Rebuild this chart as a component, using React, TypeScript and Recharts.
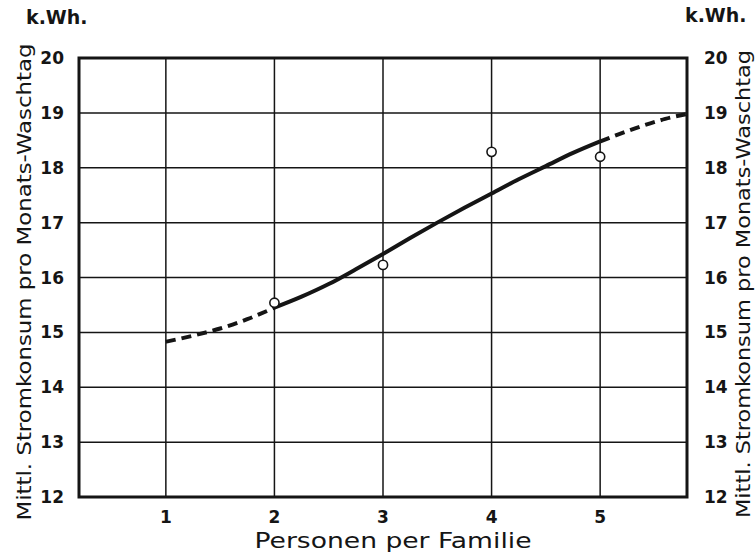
import { CartesianGrid, ComposedChart, Line, ReferenceArea, Scatter, XAxis, YAxis } from 'recharts'

// persons per family (x) and mean kWh per washing day (y)
const curveX = [1, 1.25, 1.5, 1.75, 2, 2.25, 2.5, 2.75, 3, 3.25, 3.5, 3.75, 4, 4.25, 4.5, 4.75, 5, 5.2, 5.4, 5.6, 5.8]
const curveY = [14.83, 14.94, 15.07, 15.24, 15.45, 15.65, 15.88, 16.15, 16.43, 16.72, 17.0, 17.27, 17.53, 17.79, 18.03, 18.27, 18.48, 18.63, 18.77, 18.89, 18.98]
const measuredX = [2, 3, 4, 5]
const measuredY = [15.54, 16.23, 18.29, 18.2]
const xTicks = [1, 2, 3, 4, 5]
const yTicks = [12, 13, 14, 15, 16, 17, 18, 19, 20]
const xDomain: [number, number] = [0.2, 5.8]
const yDomain: [number, number] = [12, 20]
const solidFrom = 2
const solidTo = 5

const curve = curveX.map((x, i) => ({ x, y: curveY[i] }))
const dashedLow = curve.filter(p => p.x <= solidFrom)
const solid = curve.filter(p => p.x >= solidFrom && p.x <= solidTo)
const dashedHigh = curve.filter(p => p.x >= solidTo)
const measured = measuredX.map((x, i) => ({ x, y: measuredY[i] }))

const font = '"DejaVu Sans", sans-serif'
const ink = '#151515'
const yTitle = 'Mittl. Stromkonsum pro Monats-Waschtag'

function Ring(props: any) {
  return <circle cx={props.cx} cy={props.cy} r={4.6} fill="#fff" stroke={ink} strokeWidth={1.6} />
}

// tick text with an explicit size, anchored the way the axis asks
function Tick(props: any) {
  const { x, y, payload, textAnchor, verticalAnchor } = props
  const dy = verticalAnchor === 'start' ? '0.8em' : '0.36em'
  return (
    <text x={x} y={y} dy={dy} textAnchor={textAnchor} fontSize={17} fontWeight="bold" fontFamily={font} fill={ink}>
      {payload.value}
    </text>
  )
}

function App() {
  return (
    <div style={{ position: 'absolute', left: 0, top: 0, width: 756, height: 560, background: '#fff' }}>
      <ComposedChart width={756} height={560} margin={{ top: 58, right: 0, bottom: 0, left: 0 }}>
        <CartesianGrid stroke={ink} strokeWidth={1.5} />
        <XAxis
          type="number"
          dataKey="x"
          domain={xDomain}
          ticks={xTicks}
          allowDataOverflow
          axisLine={false}
          tickLine={false}
          tickMargin={6}
          height={63}
          tick={<Tick />}
          label={() => (
            <text x={393} y={548} textAnchor="middle" fontSize={21} fontFamily={font} fill={ink}
              textLength={277} lengthAdjust="spacingAndGlyphs">
              Personen per Familie
            </text>
          )}
        />
        <YAxis
          domain={yDomain}
          ticks={yTicks}
          allowDataOverflow
          width={79}
          axisLine={false}
          tickLine={false}
          tickMargin={9}
          tick={<Tick />}
          label={() => (
            <text x={24} y={282} dy="0.35em" textAnchor="middle" fontSize={20} fontFamily={font} fill={ink}
              transform="rotate(-90 24 282)" textLength={477} lengthAdjust="spacingAndGlyphs">
              {yTitle}
            </text>
          )}
        />
        <YAxis
          yAxisId="right"
          orientation="right"
          domain={yDomain}
          ticks={yTicks}
          allowDataOverflow
          width={69}
          axisLine={false}
          tickLine={false}
          tickMargin={11}
          tick={<Tick />}
          label={() => (
            <text x={743} y={284} dy="0.35em" textAnchor="middle" fontSize={20} fontFamily={font} fill={ink}
              transform="rotate(-90 743 284)" textLength={468} lengthAdjust="spacingAndGlyphs">
              {yTitle}
            </text>
          )}
        />
        <ReferenceArea x1={xDomain[0]} x2={xDomain[1]} y1={yDomain[0]} y2={yDomain[1]}
          fill="none" stroke={ink} strokeWidth={3} ifOverflow="visible" />
        <Line data={dashedLow} dataKey="y" type="monotone" stroke={ink} strokeWidth={4}
          strokeDasharray="10 6" dot={false} activeDot={false} isAnimationActive={false} />
        <Line data={solid} dataKey="y" type="monotone" stroke={ink} strokeWidth={4}
          dot={false} activeDot={false} isAnimationActive={false} />
        <Line data={dashedHigh} dataKey="y" type="monotone" stroke={ink} strokeWidth={4}
          strokeDasharray="10 6" dot={false} activeDot={false} isAnimationActive={false} />
        <Scatter data={measured} dataKey="y" shape={<Ring />} isAnimationActive={false} />
      </ComposedChart>
      <div style={{ position: 'absolute', left: 26, top: 6, fontFamily: font, fontWeight: 'bold', fontSize: 19, color: ink }}>
        k.Wh.
      </div>
      <div style={{ position: 'absolute', left: 685, top: 4, fontFamily: font, fontWeight: 'bold', fontSize: 19, color: ink }}>
        k.Wh.
      </div>
    </div>
  )
}

export default App
